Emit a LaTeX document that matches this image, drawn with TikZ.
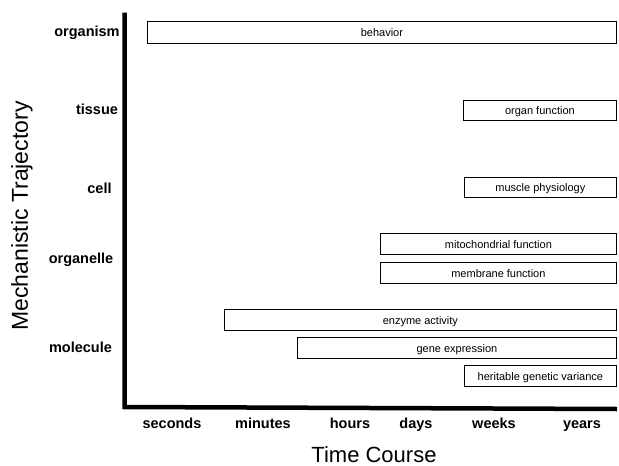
\documentclass[tikz,border=0pt]{standalone}
\usepackage{fontspec}
\setmainfont{Liberation Sans}
\begin{document}
\begin{tikzpicture}[x=1pt,y=-1pt,
  bar/.style={draw=black, line width=0.8pt, anchor=west, inner sep=0pt, minimum height=21pt,
    text height=8pt, text depth=0pt, font=\fontsize{11}{13}\selectfont},
  lvl/.style={font=\fontsize{14.5}{16}\selectfont\bfseries, inner sep=0pt, anchor=base},
  tick/.style={font=\fontsize{14.5}{16}\selectfont\bfseries, inner sep=0pt, anchor=base},
  axtitle/.style={font=\fontsize{22}{24}\selectfont, inner sep=0pt},
  axis/.style={line width=4.5pt, line join=miter}]
\useasboundingbox (0,0) rectangle (619,466);
% axes
\coordinate (top) at (124.7,12.7);
\coordinate (origin) at (124.7,407);
\coordinate (right) at (617,409);
\draw[axis] (top) -- (origin) -- (right);
% level labels
\node[lvl] (organism) at (87,36.5) {organism};
\node[lvl] (tissue) at (97,114) {tissue};
\node[lvl] (cell) at (99.5,193.3) {cell};
\node[lvl] (organelle) at (81,263) {organelle};
\node[lvl] (molecule) at (80.5,352.5) {molecule};
% time labels
\node[tick] (seconds) at (172,428) {seconds};
\node[tick] (minutes) at (263,428) {minutes};
\node[tick] (hours) at (350,428) {hours};
\node[tick] (days) at (416,428) {days};
\node[tick] (weeks) at (494,428) {weeks};
\node[tick] (years) at (582,428) {years};
% axis titles
\node[axtitle, anchor=base] (xtitle) at (374,462.5) {Time Course};
\node[axtitle, rotate=90, font=\fontsize{23}{26}\selectfont] (ytitle) at (22,216) {Mechanistic Trajectory};
% bars
\node[bar, minimum width=469pt, minimum height=22pt] (behavior) at (147,32) {behavior};
\node[bar, minimum width=153pt, minimum height=20pt] (organ) at (463,110) {organ function};
\node[bar, minimum width=152pt, minimum height=20pt] (muscle) at (464,187) {muscle physiology};
\node[bar, minimum width=236pt] (mito) at (380,244) {mitochondrial function};
\node[bar, minimum width=236pt] (membrane) at (380,273) {membrane function};
\node[bar, minimum width=392pt] (enzyme) at (224,320) {enzyme activity};
\node[bar, minimum width=319pt] (gene) at (297,348) {gene expression};
\node[bar, minimum width=152pt] (herit) at (464,376) {heritable genetic variance};
\end{tikzpicture}
\end{document}
